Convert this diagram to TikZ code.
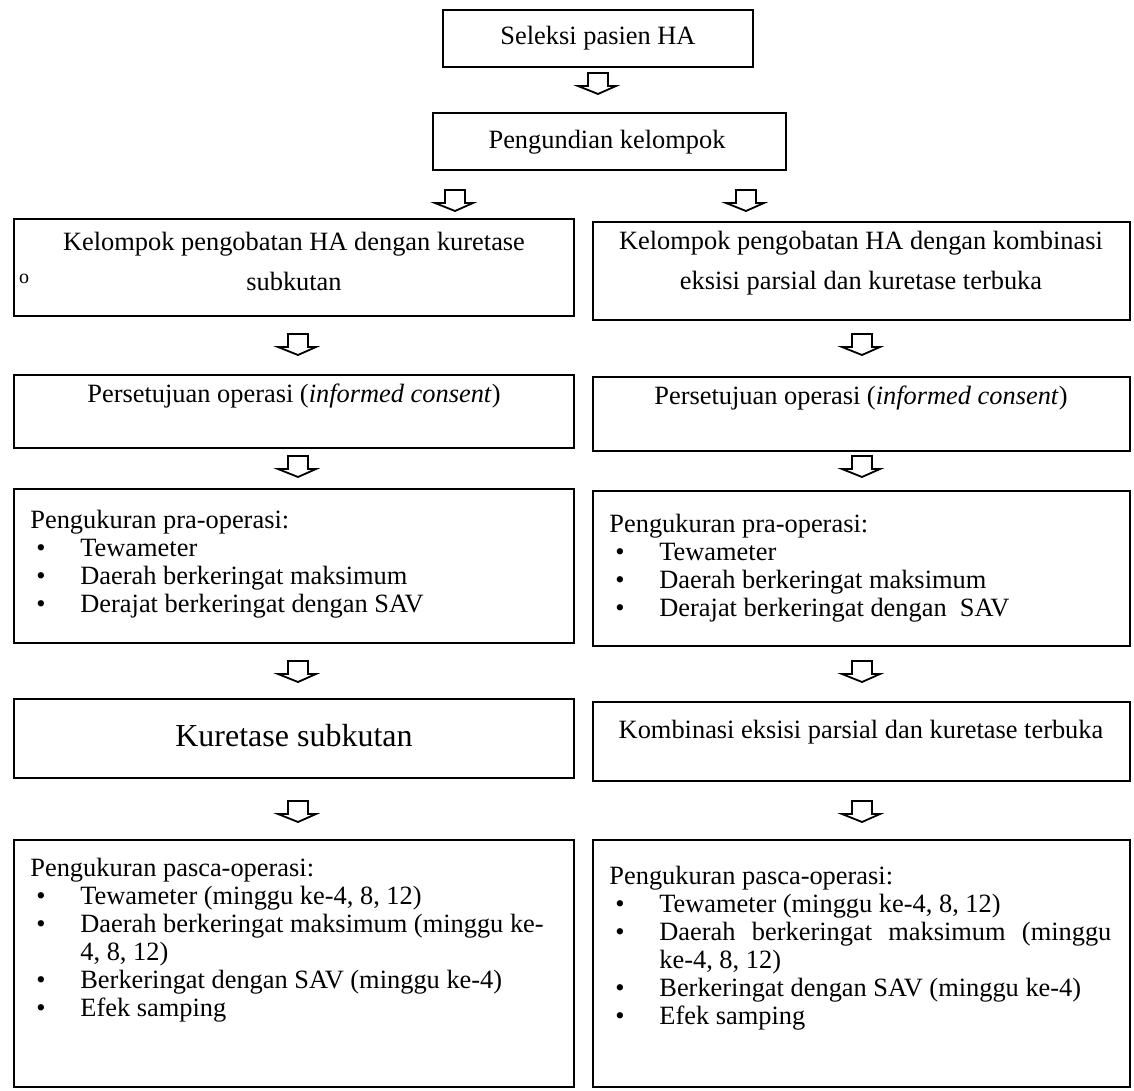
\documentclass[tikz,border=0pt]{standalone}
\usepackage{fontspec}
\setmainfont{Liberation Serif}
\usetikzlibrary{fit}
\newcommand\bitem[1]{\hspace*{3pt}\makebox[22pt][l]{\textbullet}#1}
\begin{document}
\begin{tikzpicture}[x=0.5pt,y=-0.5pt,
  box/.style={draw, line width=0.9pt, inner sep=0pt},
  txt/.style={inner sep=0pt, align=center, font=\fontsize{13.2}{20}\selectfont},
  big/.style={inner sep=0pt, font=\fontsize{16}{19}\selectfont},
  li/.style={inner sep=0pt, anchor=base west, font=\fontsize{13.2}{16}\selectfont},
  darrow/.pic={\draw[line width=0.9pt, line join=miter] (-10,0) -- (10,0) -- (10,13) -- (18,13) -- (0,21) -- (-20,13) -- (-10,13) -- cycle;}
]
\useasboundingbox (0,0) rectangle (1134,1091);

% boxes
\node[box, fit={(443,10)(753,67)}] (b1) {};
\node[box, fit={(433,113)(786,170)}] (b2) {};
\node[box, fit={(14,219)(574,316)}] (b3l) {};
\node[box, fit={(593,222)(1130,320)}] (b3r) {};
\node[box, fit={(14,375)(574,448)}] (b4l) {};
\node[box, fit={(593,377)(1130,451)}] (b4r) {};
\node[box, fit={(14,489)(574,643)}] (b5l) {};
\node[box, fit={(593,491)(1130,646)}] (b5r) {};
\node[box, fit={(14,699)(574,778)}] (b6l) {};
\node[box, fit={(593,702)(1130,781)}] (b6r) {};
\node[box, fit={(14,840)(574,1087)}] (b7l) {};
\node[box, fit={(593,840)(1130,1087)}] (b7r) {};

% arrows
\pic at (598,73) {darrow};
\pic at (455,190) {darrow};
\pic at (746,190) {darrow};
\pic at (298,334) {darrow};
\pic at (862,334) {darrow};
\pic at (298,456) {darrow};
\pic at (862,456) {darrow};
\pic at (298,661) {darrow};
\pic at (862,661) {darrow};
\pic at (298,801) {darrow};
\pic at (862,801) {darrow};

% texts
\node[txt] (t1) at (598,38) {Seleksi pasien HA};
\node[txt] (t2) at (607,142) {Pengundian kelompok};
\node[txt] (t3l) at (294,261) {Kelompok pengobatan HA dengan kuretase\\subkutan};
\node[txt] (t3r) at (861,263) {Kelompok pengobatan HA dengan kombinasi\\eksisi parsial dan kuretase terbuka};
\node[inner sep=0pt, font=\fontsize{10}{12}\selectfont] (o1) at (24,279) {o};
\node[txt] (t4l) at (294,396) {Persetujuan operasi (\textit{informed consent})};
\node[txt] (t4r) at (861,398) {Persetujuan operasi (\textit{informed consent})};

\node[li] (p5l0) at (30,528) {Pengukuran pra-operasi:};
\node[li] (p5l1) at (30,556) {\bitem{Tewameter}};
\node[li] (p5l2) at (30,584) {\bitem{Daerah berkeringat maksimum}};
\node[li] (p5l3) at (30,612) {\bitem{Derajat berkeringat dengan SAV}};

\node[li] (p5r0) at (609,532) {Pengukuran pra-operasi:};
\node[li] (p5r1) at (609,560) {\bitem{Tewameter}};
\node[li] (p5r2) at (609,588) {\bitem{Daerah berkeringat maksimum}};
\node[li] (p5r3) at (609,616) {\bitem{Derajat berkeringat dengan \ SAV}};

\node[big] (t6l) at (294,736) {Kuretase subkutan};
\node[txt] (t6r) at (861,732) {Kombinasi eksisi parsial dan kuretase terbuka};

\node[li] (p7l0) at (30,876) {Pengukuran pasca-operasi:};
\node[li] (p7l1) at (30,904) {\bitem{Tewameter (minggu ke-4, 8, 12)}};
\node[li] (p7l2) at (30,932) {\bitem{Daerah berkeringat maksimum (minggu ke-}};
\node[li] (p7l3) at (30,960) {\hspace*{25pt}4, 8, 12)};
\node[li] (p7l4) at (30,988) {\bitem{Berkeringat dengan SAV (minggu ke-4)}};
\node[li] (p7l5) at (30,1016) {\bitem{Efek samping}};

\node[li] (p7r0) at (609,884) {Pengukuran pasca-operasi:};
\node[li] (p7r1) at (609,912) {\bitem{Tewameter (minggu ke-4, 8, 12)}};
\node[li] (p7r2) at (609,940) {\bitem{\makebox[226pt][s]{Daerah berkeringat maksimum (minggu}}};
\node[li] (p7r3) at (609,968) {\hspace*{25pt}ke-4, 8, 12)};
\node[li] (p7r4) at (609,996) {\bitem{Berkeringat dengan SAV (minggu ke-4)}};
\node[li] (p7r5) at (609,1024) {\bitem{Efek samping}};
\end{tikzpicture}
\end{document}
